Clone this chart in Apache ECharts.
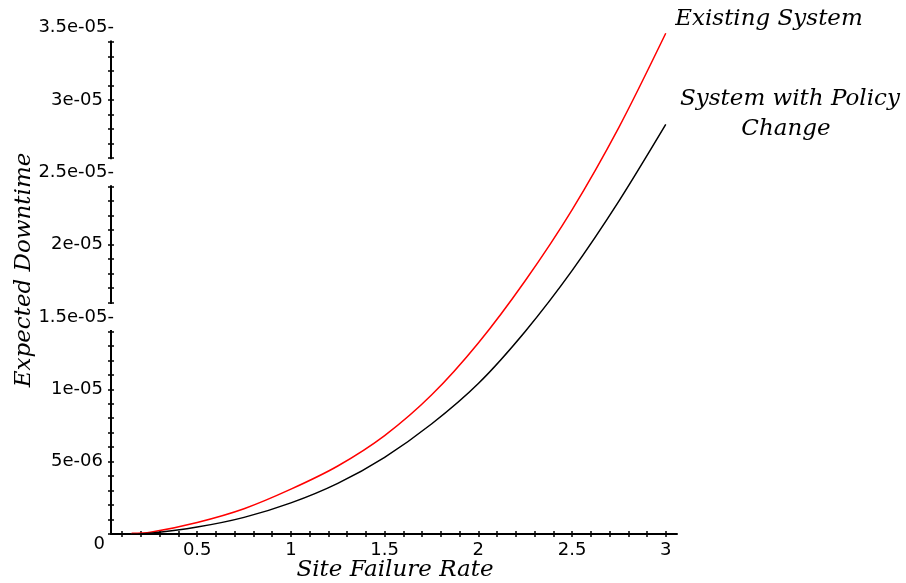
<!DOCTYPE html>
<html>
<head>
<meta charset="utf-8">
<script src="https://cdn.jsdelivr.net/npm/echarts@6/dist/echarts.min.js"></script>
<style>
html,body{margin:0;padding:0;background:#fff;}
#chart{width:906px;height:583px;}
</style>
</head>
<body>
<div id="chart"></div>
<script>
// ---- data ----
const xValues = [0.15, 0.25, 0.5, 0.75, 1.0, 1.25, 1.5, 1.75, 2.0, 2.25, 2.5, 2.75, 3.0];
const existingSystem = [0.05e-6, 0.12e-6, 0.8e-6, 1.75e-6, 3.1e-6, 4.7e-6, 6.8e-6, 9.6e-6, 13.2e-6, 17.5e-6, 22.4e-6, 28.1e-6, 34.6e-6];
const policyChange = [0.0, 0.05e-6, 0.48e-6, 1.15e-6, 2.15e-6, 3.5e-6, 5.3e-6, 7.6e-6, 10.4e-6, 14.0e-6, 18.2e-6, 23.0e-6, 28.3e-6];
const xTickValues = [0.1,0.2,0.3,0.4,0.5,0.6,0.7,0.8,0.9,1.0,1.1,1.2,1.3,1.4,1.5,1.6,1.7,1.8,1.9,2.0,2.1,2.2,2.3,2.4,2.5,2.6,2.7,2.8,2.9,3.0];
const xLabelValues = [0.5, 1, 1.5, 2, 2.5, 3];
const yTickLabels = ['0', '5e-06', '1e-05', '1.5e-05-', '2e-05', '2.5e-05-', '3e-05', '3.5e-05-'];
const xTitle = 'Site Failure Rate';
const yTitle = 'Expected Downtime';
const seriesNames = ['Existing System', 'System with Policy Change'];

const toPairs = (xs, ys) => xs.map((x, i) => [x, ys[i]]);

const labelFont = 'DejaVu Sans';
const titleFont = 'DejaVu Serif';
const titleCss = 'italic 23px "' + titleFont + '"';

const chart = echarts.init(document.getElementById('chart'), null, {renderer: 'canvas'});

function yLabel(v) {
  const idx = Math.round(v / 5e-6);
  const t = yTickLabels[idx];
  if (t === undefined) return '';
  if (idx === 0) return '{z|' + t + '}';
  if (t.endsWith('-')) return '{g|' + t + '}';
  return '{n|' + t + '}';
}

const yCommon = {
  type: 'value', min: 0, max: 3.5e-5, interval: 5e-6, position: 'left',
  splitLine: {show: false}
};

const option = {
  backgroundColor: '#fff',
  animation: false,
  grid: {left: 111, top: 27.5, width: 566, height: 506.5, containLabel: false},
  xAxis: [
    {
      type: 'value', min: 0.04, max: 3.06, position: 'bottom', z: 2,
      splitLine: {show: false},
      axisLine: {show: true, lineStyle: {color: '#000', width: 2}},
      axisTick: {show: true, inside: false, length: 3, lineStyle: {color: '#000', width: 1.5}, customValues: xTickValues},
      axisLabel: {show: true, customValues: xLabelValues, margin: 7, color: '#000', fontFamily: labelFont, fontSize: 18,
        formatter: v => String(v)}
    },
    {
      type: 'value', min: 0.04, max: 3.06, position: 'bottom', z: 1,
      splitLine: {show: false},
      axisLine: {show: false},
      axisTick: {show: true, inside: true, length: 3, lineStyle: {color: '#000', width: 1.5}, customValues: xTickValues},
      axisLabel: {show: false}
    }
  ],
  yAxis: [
    Object.assign({}, yCommon, {
      z: 3,
      axisLine: {show: true, lineStyle: {color: '#000', width: 2}},
      axisTick: {show: true, inside: false, length: 3, lineStyle: {color: '#000', width: 1.5}},
      minorTick: {show: true, splitNumber: 5, length: 3, lineStyle: {color: '#000', width: 1.5}},
      axisLabel: {
        show: true, margin: -6, color: '#000', fontFamily: labelFont, fontSize: 18,
        formatter: yLabel,
        rich: {
          n: {fontFamily: labelFont, fontSize: 18, color: '#000', padding: [0, 14, 0, 0]},
          z: {fontFamily: labelFont, fontSize: 18, color: '#000', padding: [20, 12, 0, 0]},
          g: {fontFamily: labelFont, fontSize: 18, color: '#000', padding: [4, 3, 4, 0], backgroundColor: '#fff'}
        }
      }
    }),
    Object.assign({}, yCommon, {
      z: 1,
      axisLine: {show: false},
      axisTick: {show: true, inside: true, length: 3, lineStyle: {color: '#000', width: 1.5}},
      minorTick: {show: true, splitNumber: 5, length: 3, lineStyle: {color: '#000', width: 1.5}},
      axisLabel: {show: false}
    })
  ],
  series: [
    {
      name: seriesNames[0], type: 'line', xAxisIndex: 0, yAxisIndex: 0,
      data: toPairs(xValues, existingSystem), smooth: 0.3, showSymbol: false,
      lineStyle: {color: '#ff0000', width: 1.5}, z: 5
    },
    {
      name: seriesNames[1], type: 'line', xAxisIndex: 0, yAxisIndex: 0,
      data: toPairs(xValues, policyChange), smooth: 0.3, showSymbol: false,
      lineStyle: {color: '#000000', width: 1.5}, z: 5
    }
  ],
  graphic: [
    {type: 'text', x: 395, y: 570, style: {text: xTitle, font: titleCss, fill: '#000', align: 'center', verticalAlign: 'middle'}},
    {type: 'text', x: 24, y: 270, rotation: Math.PI / 2, style: {text: yTitle, font: titleCss, fill: '#000', align: 'center', verticalAlign: 'middle'}},
    {type: 'text', x: 769, y: 19, style: {text: 'Existing System', font: titleCss, fill: '#000', align: 'center', verticalAlign: 'middle'}},
    {type: 'text', x: 790, y: 99, style: {text: 'System with Policy', font: titleCss, fill: '#000', align: 'center', verticalAlign: 'middle'}},
    {type: 'text', x: 786, y: 129, style: {text: 'Change', font: titleCss, fill: '#000', align: 'center', verticalAlign: 'middle'}}
  ]
};
chart.setOption(option);
</script>
</body>
</html>
